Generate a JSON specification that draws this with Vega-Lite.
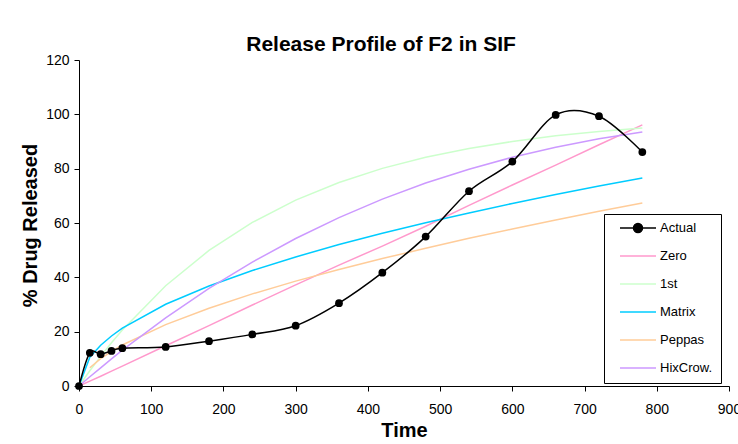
{
  "$schema": "https://vega.github.io/schema/vega-lite/v6.json",
  "width": 650,
  "height": 326,
  "autosize": "none",
  "padding": {"left": 79, "top": 60, "right": 9, "bottom": 58},
  "background": "white",
  "title": {
    "text": "Release Profile of F2 in SIF",
    "font": "Liberation Sans",
    "fontSize": 21,
    "fontWeight": "bold",
    "color": "black",
    "anchor": "middle",
    "frame": "group",
    "dx": -23,
    "baseline": "alphabetic",
    "offset": -19
  },
  "config": {
    "view": {"stroke": null},
    "axis": {
      "domainColor": "black",
      "tickColor": "black",
      "labelColor": "black",
      "titleColor": "black",
      "labelFont": "Liberation Sans",
      "titleFont": "Liberation Sans",
      "labelFontSize": 14,
      "titleFontSize": 20,
      "titleFontWeight": "bold",
      "grid": false,
      "tickSize": 5
    }
  },
  "data": {
    "values": [
      {"series": "Actual", "time": 0, "release": 0},
      {"series": "Actual", "time": 15, "release": 12.2},
      {"series": "Actual", "time": 30, "release": 11.7},
      {"series": "Actual", "time": 45, "release": 12.9},
      {"series": "Actual", "time": 60, "release": 13.9},
      {"series": "Actual", "time": 120, "release": 14.4},
      {"series": "Actual", "time": 180, "release": 16.5},
      {"series": "Actual", "time": 240, "release": 19.0},
      {"series": "Actual", "time": 300, "release": 22.2},
      {"series": "Actual", "time": 360, "release": 30.5},
      {"series": "Actual", "time": 420, "release": 41.7},
      {"series": "Actual", "time": 480, "release": 55.0},
      {"series": "Actual", "time": 540, "release": 71.7},
      {"series": "Actual", "time": 600, "release": 82.6},
      {"series": "Actual", "time": 660, "release": 99.8},
      {"series": "Actual", "time": 720, "release": 99.3},
      {"series": "Actual", "time": 780, "release": 86.1},
      {"series": "Zero", "time": 0, "release": 0},
      {"series": "Zero", "time": 15, "release": 1.8},
      {"series": "Zero", "time": 30, "release": 3.6},
      {"series": "Zero", "time": 45, "release": 5.5},
      {"series": "Zero", "time": 60, "release": 7.3},
      {"series": "Zero", "time": 120, "release": 14.8},
      {"series": "Zero", "time": 180, "release": 22.2},
      {"series": "Zero", "time": 240, "release": 29.8},
      {"series": "Zero", "time": 300, "release": 37.2},
      {"series": "Zero", "time": 360, "release": 44.5},
      {"series": "Zero", "time": 420, "release": 51.5},
      {"series": "Zero", "time": 480, "release": 58.8},
      {"series": "Zero", "time": 540, "release": 66.5},
      {"series": "Zero", "time": 600, "release": 74.0},
      {"series": "Zero", "time": 660, "release": 81.3},
      {"series": "Zero", "time": 720, "release": 88.8},
      {"series": "Zero", "time": 780, "release": 96.1},
      {"series": "1st", "time": 0, "release": 0},
      {"series": "1st", "time": 15, "release": 5.6},
      {"series": "1st", "time": 30, "release": 10.9},
      {"series": "1st", "time": 45, "release": 15.9},
      {"series": "1st", "time": 60, "release": 20.6},
      {"series": "1st", "time": 120, "release": 36.9},
      {"series": "1st", "time": 180, "release": 49.9},
      {"series": "1st", "time": 240, "release": 60.2},
      {"series": "1st", "time": 300, "release": 68.4},
      {"series": "1st", "time": 360, "release": 74.9},
      {"series": "1st", "time": 420, "release": 80.1},
      {"series": "1st", "time": 480, "release": 84.2},
      {"series": "1st", "time": 540, "release": 87.4},
      {"series": "1st", "time": 600, "release": 90.0},
      {"series": "1st", "time": 660, "release": 92.1},
      {"series": "1st", "time": 720, "release": 93.7},
      {"series": "1st", "time": 780, "release": 95.0},
      {"series": "Matrix", "time": 0, "release": 0},
      {"series": "Matrix", "time": 15, "release": 10.6},
      {"series": "Matrix", "time": 30, "release": 15.0},
      {"series": "Matrix", "time": 45, "release": 18.4},
      {"series": "Matrix", "time": 60, "release": 21.3},
      {"series": "Matrix", "time": 120, "release": 30.1},
      {"series": "Matrix", "time": 180, "release": 36.8},
      {"series": "Matrix", "time": 240, "release": 42.5},
      {"series": "Matrix", "time": 300, "release": 47.5},
      {"series": "Matrix", "time": 360, "release": 52.1},
      {"series": "Matrix", "time": 420, "release": 56.2},
      {"series": "Matrix", "time": 480, "release": 60.1},
      {"series": "Matrix", "time": 540, "release": 63.7},
      {"series": "Matrix", "time": 600, "release": 67.2},
      {"series": "Matrix", "time": 660, "release": 70.5},
      {"series": "Matrix", "time": 720, "release": 73.6},
      {"series": "Matrix", "time": 780, "release": 76.6},
      {"series": "Peppas", "time": 15, "release": 6.7},
      {"series": "Peppas", "time": 30, "release": 10.1},
      {"series": "Peppas", "time": 45, "release": 12.7},
      {"series": "Peppas", "time": 60, "release": 15.1},
      {"series": "Peppas", "time": 120, "release": 22.6},
      {"series": "Peppas", "time": 180, "release": 28.6},
      {"series": "Peppas", "time": 240, "release": 33.9},
      {"series": "Peppas", "time": 300, "release": 38.6},
      {"series": "Peppas", "time": 360, "release": 42.9},
      {"series": "Peppas", "time": 420, "release": 46.9},
      {"series": "Peppas", "time": 480, "release": 50.7},
      {"series": "Peppas", "time": 540, "release": 54.4},
      {"series": "Peppas", "time": 600, "release": 57.8},
      {"series": "Peppas", "time": 660, "release": 61.1},
      {"series": "Peppas", "time": 720, "release": 64.3},
      {"series": "Peppas", "time": 780, "release": 67.4},
      {"series": "HixCrow.", "time": 0, "release": 0},
      {"series": "HixCrow.", "time": 15, "release": 3.4},
      {"series": "HixCrow.", "time": 30, "release": 6.7},
      {"series": "HixCrow.", "time": 45, "release": 10.0},
      {"series": "HixCrow.", "time": 60, "release": 13.2},
      {"series": "HixCrow.", "time": 120, "release": 25.1},
      {"series": "HixCrow.", "time": 180, "release": 35.9},
      {"series": "HixCrow.", "time": 240, "release": 45.6},
      {"series": "HixCrow.", "time": 300, "release": 54.3},
      {"series": "HixCrow.", "time": 360, "release": 62.0},
      {"series": "HixCrow.", "time": 420, "release": 68.8},
      {"series": "HixCrow.", "time": 480, "release": 74.7},
      {"series": "HixCrow.", "time": 540, "release": 79.8},
      {"series": "HixCrow.", "time": 600, "release": 84.2},
      {"series": "HixCrow.", "time": 660, "release": 87.9},
      {"series": "HixCrow.", "time": 720, "release": 91.0},
      {"series": "HixCrow.", "time": 780, "release": 93.5}
    ]
  },
  "encoding": {
    "x": {
      "field": "time",
      "type": "quantitative",
      "title": "Time",
      "scale": {"domain": [0, 900], "nice": false, "zero": false},
      "axis": {
        "values": [0, 100, 200, 300, 400, 500, 600, 700, 800, 900],
        "labelPadding": 11,
        "labelFlush": false,
        "labelOverlap": false,
        "titleBaseline": "alphabetic",
        "titleY": 50,
        "titleX": 325
      }
    },
    "y": {
      "field": "release",
      "type": "quantitative",
      "title": "% Drug Released",
      "scale": {"domain": [0, 120], "nice": false},
      "axis": {
        "values": [0, 20, 40, 60, 80, 100, 120],
        "labelPadding": 5,
        "labelFlush": false,
        "labelOverlap": false,
        "titleAngle": -90,
        "titleAlign": "center",
        "titleBaseline": "alphabetic",
        "titleX": -43,
        "titleY": 165
      }
    }
  },
  "layer": [
    {
      "transform": [{"filter": "datum.series !== 'Actual'"}],
      "mark": {"type": "line", "strokeWidth": 1.5, "clip": false},
      "encoding": {
        "color": {
          "field": "series",
          "type": "nominal",
          "scale": {
            "domain": ["Actual", "Zero", "1st", "Matrix", "Peppas", "HixCrow."],
            "range": ["#000000", "#FF99CC", "#CCFFCC", "#00CCFF", "#FFCC99", "#CC99FF"]
          },
          "legend": {
            "title": null,
            "orient": "none",
            "legendX": 525,
            "legendY": 154,
            "strokeColor": "black",
            "fillColor": "white",
            "padding": 8,
            "symbolOffset": 7,
            "clipHeight": 12,
            "rowPadding": 15,
            "symbolSize": 1296,
            "symbolStrokeWidth": 1.5,
            "symbolType": "M-1,0H1",
            "labelFont": "Liberation Sans",
            "labelFontSize": 13,
            "labelColor": "black",
            "labelOffset": 3,
            "labelExpr": "datum.label + '\u00a0\u00a0\u00a0\u00a0'",
            "encode": {
              "symbols": {
                "update": {
                  "shape": {"signal": "datum.value === 'Actual' ? 'M-1,0H1M-0.25,0A0.25,0.25,0,1,1,0.25,0A0.25,0.25,0,1,1,-0.25,0Z' : 'M-1,0H1'"},
                  "fill": {"signal": "datum.value === 'Actual' ? 'black' : 'transparent'"},
                  "fillOpacity": {"value": 1},
                  "opacity": {"value": 1}
                }
              }
            }
          }
        },
        "order": {"field": "time", "type": "quantitative"}
      }
    },
    {
      "transform": [{"filter": "datum.series === 'Actual'"}],
      "mark": {"type": "line", "color": "black", "strokeWidth": 1.5, "interpolate": "cardinal"},
      "encoding": {"order": {"field": "time", "type": "quantitative"}}
    },
    {
      "transform": [{"filter": "datum.series === 'Actual'"}],
      "mark": {"type": "point", "filled": true, "color": "black", "opacity": 1, "size": 60}
    }
  ]
}
